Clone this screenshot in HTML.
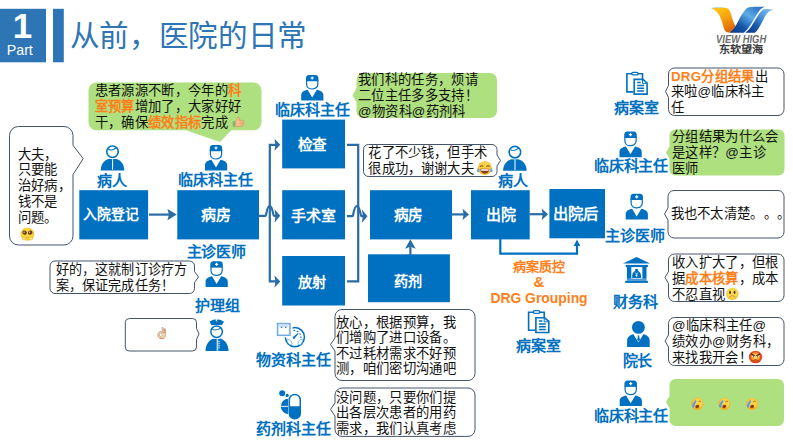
<!DOCTYPE html>
<html lang="zh-CN"><head><meta charset="utf-8"><title>从前，医院的日常</title>
<style>
html,body{margin:0;padding:0;background:#fff;}
body{width:793px;height:446px;position:relative;overflow:hidden;font-family:"Liberation Sans",sans-serif;}
svg.bg{position:absolute;left:0;top:0;}
.t{position:absolute;white-space:nowrap;margin:0;padding:0;}
.h1{color:#fff;font-weight:bold;font-size:35px;line-height:40px;}
.h2{color:#fff;font-size:14.2px;line-height:16px;}
.title{color:#2E75B6;font-size:29.6px;letter-spacing:-0.3px;line-height:36px;}
.bx{color:#fff;font-weight:bold;font-size:14.6px;line-height:20px;}
.role{color:#0070C0;font-weight:bold;font-size:15px;letter-spacing:-0.1px;line-height:18px;}
.org{color:#FF7F1A;font-weight:bold;font-size:13px;line-height:17px;}
.p{text-spacing-trim:space-all;color:#111;font-size:13.33px;letter-spacing:0.33px;line-height:16px;}
.o{color:#FF7F1A;font-weight:bold;}
.em{display:inline-block;vertical-align:-2px;}
.lg1{font-size:10.9px;line-height:12px;font-style:italic;font-weight:bold;color:#6e6e6e;transform:scaleX(0.865);transform-origin:left top;}
.lg2{font-family:"Liberation Serif",serif;font-weight:bold;font-size:11.2px;line-height:12px;color:#3a3a3a;transform:scaleY(0.9);transform-origin:left top;}
</style></head><body>
<svg class="bg" width="793" height="446" viewBox="0 0 793 446">

<defs>
<symbol id="patient" viewBox="0 0 25 27" overflow="visible">
 <path d="M0.7,26.4 C0.7,19.6 5.4,14.3 12.5,14.3 C19.6,14.3 24.3,19.6 24.3,26.4Z" fill="#0070C0"/>
 <circle cx="12.5" cy="7.7" r="7.5" fill="#fff"/>
 <circle cx="12.5" cy="7.7" r="5.75" fill="#fff" stroke="#0070C0" stroke-width="1.6"/>
 <path d="M8.3,5.3 C10.5,6.5 14,5.9 16.3,3.5" fill="none" stroke="#0070C0" stroke-width="1.1"/>
 <path d="M12.6,15.2 V25.7" stroke="#fff" stroke-width="1"/>
</symbol>
<symbol id="doctor" viewBox="0 0 22.6 25.8" overflow="visible">
 <path d="M0.2,25.7 V20.5 C0.2,17.2 3,15.9 6.6,15 L11.2,22.8 L15.8,15 C19.4,15.9 22.4,17.2 22.4,20.5 V25.7Z" fill="#0070C0"/>
 <path d="M5.6,5.5 V9.4 C5.6,15.8 16.8,15.8 16.8,9.4 V5.5Z" fill="#fff" stroke="#0070C0" stroke-width="1.2"/>
 <path d="M5,6.4 V3 C5,1.2 6.3,0.1 7.9,0.1 H14.5 C16.1,0.1 17.4,1.2 17.4,3 V6.4Z" fill="#0070C0"/>
 <path d="M11.2,1.6 V4.8 M9.6,3.2 H12.8" stroke="#fff" stroke-width="1.2"/>
</symbol>
<symbol id="nurse" viewBox="0 0 23.4 31.6" overflow="visible">
 <path d="M0.2,31.5 C0.2,24.2 4.8,18.5 11.7,18.5 C18.6,18.5 23.2,24.2 23.2,31.5Z" fill="#0070C0"/>
 <path d="M12.1,19.4 V31.5" stroke="#BFD9EE" stroke-width="1.6"/>
 <path d="M12.9,22.2 h1.9 M12.9,24.3 h1.9 M12.9,26.4 h1.9 M12.9,28.5 h1.9" stroke="#BFD9EE" stroke-width="1"/>
 <circle cx="11.3" cy="12.3" r="7.4" fill="#fff"/>
 <circle cx="11.3" cy="12.3" r="5.75" fill="#fff" stroke="#0070C0" stroke-width="1.5"/>
 <path d="M6.9,10 C9.4,11.2 13,10.4 15.8,8.3" fill="none" stroke="#0070C0" stroke-width="1"/>
 <path d="M4.1,2.4 L7.8,0.3 L10.9,0.1 L10.3,1.6 L12,2.4 L11.6,0.1 L15,0.3 L18.7,2.4 L16.6,5.6 H6.2Z" fill="#0070C0"/>
</symbol>
<symbol id="clip" viewBox="0 0 23 24.5" overflow="visible">
 <path d="M8,20.9 H1.4 V2.8 H17 V8" fill="none" stroke="#0070C0" stroke-width="1.6"/>
 <rect x="6.2" y="1.3" width="6.4" height="2.6" rx="1.3" fill="#fff" stroke="#0070C0" stroke-width="1.3"/>
 <path d="M8.7,8.4 H17.4 L21.6,12 V23.1 H8.7Z" fill="#fff" stroke="#0070C0" stroke-width="1.6"/>
 <path d="M17,8.8 V12.4 H21.2" fill="none" stroke="#0070C0" stroke-width="1"/>
 <path d="M11.7,11.6 H15.2 M11.7,14.5 H18.6 M11.7,17.3 H18.6 M11.7,20 H18.6" stroke="#0070C0" stroke-width="1.5"/>
</symbol>
<symbol id="equip" viewBox="0 0 29 25.5" overflow="visible">
 <circle cx="18.4" cy="14.6" r="9.55" fill="#fff" stroke="#0070C0" stroke-width="1.5"/>
 <rect x="-0.5" y="-0.5" width="16.6" height="15.4" fill="#fff"/>
 <rect x="1.2" y="1.2" width="11.9" height="11.5" fill="#fff" stroke="#8DBBE3" stroke-width="1.5"/>
 <rect x="0.6" y="0.6" width="13.1" height="12.7" fill="none" stroke="#4C97D4" stroke-width="0.5"/>
 <path d="M2.6,3.4 H11.8" stroke="#A9CDEB" stroke-width="1"/>
 <path d="M3.8,4.2 H6.4 L5.1,5.8Z M8,4.2 H10.6 L9.3,5.8Z" fill="#0070C0"/>
 <path d="M17.4,16.4 L16.6,14.8 L21.6,11 Z" fill="#0070C0" stroke="#0070C0" stroke-width="0.8" stroke-linejoin="round"/>
 <path d="M17.4,7.8 l0.9,0.3 M20.6,8.8 l0.9,0.5 M23.4,11.2 l0.4,0.8 M24.4,14.2 l0.1,0.9" stroke="#0070C0" stroke-width="1.1" stroke-linecap="round"/>
 <ellipse cx="13" cy="19.6" rx="3.3" ry="1.7" transform="rotate(52 13 19.6)" fill="#fff" stroke="#0070C0" stroke-width="0.4"/>
 <ellipse cx="23.9" cy="19.6" rx="3.3" ry="1.7" transform="rotate(-52 23.9 19.6)" fill="#fff" stroke="#0070C0" stroke-width="0.4"/>
</symbol>
<symbol id="pill" viewBox="0 0 22.5 30" overflow="visible">
 <circle cx="3.2" cy="3.2" r="3" fill="#0070C0"/>
 <circle cx="8.2" cy="5.4" r="1.6" fill="#0070C0"/>
 <path d="M9.2,8.8 A7.4,7.65 0 0 0 9.2,24.1Z" fill="#0070C0"/>
 <path d="M1.5,16.4 H9.2" stroke="#fff" stroke-width="0.9"/>
 <rect x="10.35" y="4.45" width="10.9" height="24.4" rx="5.45" fill="#fff" stroke="#0070C0" stroke-width="1.5"/>
 <path d="M10.35,16.3 H21.25 V23.4 C21.25,30.7 10.35,30.7 10.35,23.4Z" fill="#0070C0"/>
</symbol>
<symbol id="bank" viewBox="0 0 27.6 26.2" overflow="visible">
 <path d="M13.8,0.3 L27.3,6.7 H0.2Z" fill="#0070C0"/>
 <rect x="2.9" y="8.1" width="22.2" height="2.2" fill="#0070C0"/>
 <rect x="4.1" y="10.2" width="4.4" height="11.8" fill="#0070C0"/>
 <rect x="19.6" y="10.2" width="4.1" height="11.8" fill="#0070C0"/>
 <rect x="4.1" y="21.8" width="19.6" height="2.2" fill="#4C97D4"/>
 <rect x="2.4" y="24" width="22.7" height="2.1" fill="#0070C0"/>
 <path d="M12.1,12.3 H15.5 L15,14 C17.4,14.8 18.6,17.6 18.2,21.2 H9.4 C9,17.6 10.2,14.8 12.6,14Z" fill="#0070C0"/>
 <path d="M12.6,15.8 L13.8,17.4 L15,15.8 M13.8,17.4 V20.4 M12.6,18.4 H15" stroke="#fff" stroke-width="0.7" fill="none"/>
</symbol>
<symbol id="dean" viewBox="0 0 22.8 26.4" overflow="visible">
 <circle cx="11.4" cy="6.6" r="6.4" fill="#0070C0"/>
 <path d="M0.1,26.3 V20 C0.1,16.2 2.8,14.2 6.4,13.4 L11.4,21.6 L16.4,13.4 C20,14.2 22.7,16.2 22.7,20 V26.3Z" fill="#0070C0"/>
 <path d="M10.4,14.6 H12.6 L12.2,16 L13,19.2 L11.5,20.8 L10.1,19.2 L10.9,16Z" fill="#0070C0"/>
</symbol>
<linearGradient id="lgO" x1="0.3" y1="0" x2="0.7" y2="1">
 <stop offset="0" stop-color="#FFC515"/><stop offset="0.45" stop-color="#F7A00C"/><stop offset="1" stop-color="#DE5F0A"/>
</linearGradient>
<linearGradient id="lgB" x1="0" y1="1" x2="1" y2="0">
 <stop offset="0" stop-color="#0A3585"/><stop offset="0.3" stop-color="#1556A8"/><stop offset="0.6" stop-color="#5FACE6"/><stop offset="0.8" stop-color="#3A84CC"/><stop offset="1" stop-color="#2B6FBA"/>
</linearGradient>
<linearGradient id="lgB2" x1="0" y1="1" x2="1" y2="0">
 <stop offset="0" stop-color="#0A3585"/><stop offset="0.35" stop-color="#1A5CAE"/><stop offset="0.65" stop-color="#4E9ADA"/><stop offset="1" stop-color="#8CC6F0"/>
</linearGradient>
</defs>
<rect x="0" y="8.8" width="46" height="53.5" fill="#2E75B6"/>
<rect x="53" y="8.8" width="10.8" height="53.5" fill="#2E75B6"/>
<rect x="79.3" y="190.2" width="68.8" height="49.2" fill="#0070C0"/>
<rect x="177.3" y="190.2" width="81.7" height="49.2" fill="#0070C0"/>
<rect x="282.2" y="119.6" width="62.8" height="48.8" fill="#0070C0"/>
<rect x="282.2" y="190.2" width="62.8" height="49.2" fill="#0070C0"/>
<rect x="282.2" y="256" width="62.8" height="49.5" fill="#0070C0"/>
<rect x="370" y="190.2" width="82" height="49.2" fill="#0070C0"/>
<rect x="368" y="254.3" width="81.9" height="47.9" fill="#0070C0"/>
<rect x="471" y="190.2" width="58.7" height="49.2" fill="#0070C0"/>
<rect x="549.4" y="189" width="55.6" height="49.3" fill="#0070C0"/>
<path d="M149,214.6 H170" fill="none" stroke="#2A6CA5" stroke-width="2.2"/>
<path d="M176.8,214.6 L167.4,209.0 L169.0,214.6 L167.4,220.2Z" fill="#2A6CA5"/>
<path d="M259,215.8 H265.6 C266.6,215.8 266.6,206 269.7,206 C272.8,206 272.8,215.8 274,215.8 H277" fill="none" stroke="#2A6CA5" stroke-width="2.2"/>
<path d="M280.2,215.8 L274.59999999999997,209.20000000000002 L275.49999999999994,215.8 L274.59999999999997,222.4Z" fill="#2A6CA5"/>
<path d="M276.5,144.8 H269.8 V281.4 H276.5" fill="none" stroke="#2A6CA5" stroke-width="2.2"/>
<path d="M280.3,144.8 L274.5,138.8 L275.4,144.8 L274.5,150.8Z" fill="#2A6CA5"/>
<path d="M280.3,281.4 L274.5,275.4 L275.4,281.4 L274.5,287.4Z" fill="#2A6CA5"/>
<path d="M347,144.8 H358.2 V281.4 H347" fill="none" stroke="#2A6CA5" stroke-width="2.2"/>
<path d="M347,216.2 H352.6 C353.6,216.2 353.6,206 357,206 C360.2,206 360.2,216.2 361.4,216.2 H364" fill="none" stroke="#2A6CA5" stroke-width="2.2"/>
<path d="M367.5,216.2 L361.9,209.6 L362.79999999999995,216.2 L361.9,222.79999999999998Z" fill="#2A6CA5"/>
<path d="M451.5,214.4 H464" fill="none" stroke="#2A6CA5" stroke-width="2.2"/>
<path d="M469,214.4 L462.6,208.70000000000002 L463.6,214.4 L462.6,220.1Z" fill="#2A6CA5"/>
<path d="M529.5,214.2 H543" fill="none" stroke="#2A6CA5" stroke-width="2.2"/>
<path d="M548.1,214.2 L541.7,208.39999999999998 L542.7,214.2 L541.7,220.0Z" fill="#2A6CA5"/>
<path d="M410.4,255 V247" fill="none" stroke="#2A6CA5" stroke-width="2.2"/>
<path d="M410.4,239.3 L405.09999999999997,248.70000000000002 L410.4,246.70000000000002 L415.7,248.70000000000002Z" fill="#2A6CA5"/>
<path d="M500.3,239 V253.7 H577 V245" fill="none" stroke="#0070C0" stroke-width="2.2"/>
<path d="M577,239.4 L573.7,245.9 L577,245.9 L580.3,245.9Z" fill="#0070C0"/>
<path d="M18.5,126.5 H64 A9,9 0 0 1 73,135.5 V145.3 L83.2,158.6 L73,174.6 V236 A9,9 0 0 1 64,245 H18.5 A9,9 0 0 1 9.5,236 V135.5 A9,9 0 0 1 18.5,126.5Z" fill="#FFFFFF" stroke="#44546A" stroke-width="1"/>
<path d="M96.5,82.5 H253.5 A8,8 0 0 1 261.5,90.5 V122.30000000000001 A8,8 0 0 1 253.5,130.3 H231.3 L220,142 L186,130.3 H96.5 A8,8 0 0 1 88.5,122.30000000000001 V90.5 A8,8 0 0 1 96.5,82.5Z" fill="#AEE080"/>
<path d="M363.5,73 H490 A7,7 0 0 1 497,80 V111 A7,7 0 0 1 490,118 H363.5 A7,7 0 0 1 356.5,111 V102 L352.5,95.5 L356.5,88 V80 A7,7 0 0 1 363.5,73Z" fill="#AEE080"/>
<path d="M368.5,144.5 H492 A5,5 0 0 1 497,149.5 V155 L500.5,160.5 L497,166 V171.5 A5,5 0 0 1 492,176.5 H368.5 A5,5 0 0 1 363.5,171.5 V149.5 A5,5 0 0 1 368.5,144.5Z" fill="#FFFFFF" stroke="#44546A" stroke-width="1"/>
<path d="M55,261 H189.5 A5,5 0 0 1 194.5,266 V271.5 L198.5,277 L194.5,282.5 V288.5 A5,5 0 0 1 189.5,293.5 H55 A5,5 0 0 1 50,288.5 V266 A5,5 0 0 1 55,261Z" fill="#FFFFFF" stroke="#44546A" stroke-width="1"/>
<path d="M129.3,318.5 H192.5 A4,4 0 0 1 196.5,322.5 V328.5 L199,334 L196.5,339.5 V347 A4,4 0 0 1 192.5,351 H129.3 A4,4 0 0 1 125.3,347 V322.5 A4,4 0 0 1 129.3,318.5Z" fill="#FFFFFF" stroke="#44546A" stroke-width="1"/>
<path d="M342,309.5 H468 A7,7 0 0 1 475,316.5 V373.5 A7,7 0 0 1 468,380.5 H342 A7,7 0 0 1 335,373.5 V351 L330.5,344.5 L335,338 V316.5 A7,7 0 0 1 342,309.5Z" fill="#FFFFFF" stroke="#44546A" stroke-width="1"/>
<path d="M342,388 H468 A7,7 0 0 1 475,395 V429.4 A7,7 0 0 1 468,436.4 H342 A7,7 0 0 1 335,429.4 V416 L330.5,409.5 L335,403 V395 A7,7 0 0 1 342,388Z" fill="#FFFFFF" stroke="#44546A" stroke-width="1"/>
<path d="M674.5,68 H778 A6,6 0 0 1 784,74 V109.5 A6,6 0 0 1 778,115.5 H674.5 A6,6 0 0 1 668.5,109.5 V97.5 L665.5,91.5 L668.5,85.5 V74 A6,6 0 0 1 674.5,68Z" fill="#FFFFFF" stroke="#44546A" stroke-width="1"/>
<path d="M675.5,129.5 H778.5 A6,6 0 0 1 784.5,135.5 V169.5 A6,6 0 0 1 778.5,175.5 H675.5 A6,6 0 0 1 669.5,169.5 V158.5 L666,152.5 L669.5,146.5 V135.5 A6,6 0 0 1 675.5,129.5Z" fill="#AEE080"/>
<path d="M674,190.5 H778 A6,6 0 0 1 784,196.5 V232 A6,6 0 0 1 778,238 H674 A6,6 0 0 1 668,232 V220 L664.5,214 L668,208 V196.5 A6,6 0 0 1 674,190.5Z" fill="#FFFFFF" stroke="#44546A" stroke-width="1"/>
<path d="M674.5,254 H778 A6,6 0 0 1 784,260 V295.5 A6,6 0 0 1 778,301.5 H674.5 A6,6 0 0 1 668.5,295.5 V283.5 L665,277.5 L668.5,271.5 V260 A6,6 0 0 1 674.5,254Z" fill="#FFFFFF" stroke="#44546A" stroke-width="1"/>
<path d="M674.5,317.5 H778 A6,6 0 0 1 784,323.5 V359.5 A6,6 0 0 1 778,365.5 H674.5 A6,6 0 0 1 668.5,359.5 V347 L665,341 L668.5,335 V323.5 A6,6 0 0 1 674.5,317.5Z" fill="#FFFFFF" stroke="#44546A" stroke-width="1"/>
<path d="M675.5,379 H778 A6,6 0 0 1 784,385 V420 A6,6 0 0 1 778,426 H675.5 A6,6 0 0 1 669.5,420 V408 L666,402 L669.5,396 V385 A6,6 0 0 1 675.5,379Z" fill="#AEE080"/>
<use href="#patient" x="100" y="144" width="25" height="27"/>
<use href="#patient" x="502.4" y="144.4" width="25" height="27"/>
<use href="#doctor" x="204.8" y="144.8" width="22.6" height="25.8"/>
<use href="#doctor" x="301" y="74.8" width="22.6" height="25.8"/>
<use href="#doctor" x="205.4" y="261.2" width="22.6" height="25.8"/>
<use href="#doctor" x="619.3" y="131.5" width="22.6" height="25.8"/>
<use href="#doctor" x="625.5" y="193.7" width="22.6" height="25.8"/>
<use href="#doctor" x="619.5" y="380.4" width="22.6" height="25.8"/>
<use href="#nurse" x="205.3" y="319.4" width="23.4" height="31.6"/>
<use href="#equip" x="276.5" y="322.5" width="29" height="25.5"/>
<use href="#pill" x="279" y="390" width="22.5" height="30"/>
<use href="#clip" x="625.5" y="71" width="23" height="24.5"/>
<use href="#clip" x="527.2" y="309.4" width="23" height="24.5"/>
<use href="#bank" x="622.8" y="256.8" width="27.6" height="26.2"/>
<use href="#dean" x="627" y="320.8" width="22.8" height="26.4"/>
<g>
 <path d="M711.3,8.4 C714,7.4 722,7.2 726.4,7.9 C730,8.6 731,14 732.6,19.6 C733.6,23 735,25.5 735.8,26.5 L730.1,32.6 C728,32.7 726.5,32.2 725.7,31.5 C723.5,29 723,24 720.7,18.3 C719,13.5 716,10 711.3,8.4Z" fill="url(#lgO)"/>
 <path d="M711.3,8.4 C714,7.4 720,7.3 723,7.5" fill="none" stroke="#A8D4F0" stroke-width="0.7"/>
 <path d="M729.5,32.8 C733,30 735,27 736.4,24.6 C739,20 740.5,16 742.7,13.3 C744.5,10.5 746,8.6 747.7,7.7 C750,6.6 760,6.6 765.3,6.8 C763,7.4 761.5,8.4 760.3,9.5 C758,12 756.8,14.5 755.3,17.1 C753,21 751,25 749,27.1 C747.3,29.5 745.6,31.5 743.9,32.8Z" fill="url(#lgB)"/>
 <path d="M745.5,32.8 C747.5,31 749.5,29 750.9,27.1 C753.5,23.5 755,20 757.1,17.1 C759,14 760.5,11.5 762.2,10.2 C764,8.8 769,8.8 773.5,9.8 C771,10.4 769,11.4 767.8,12.7 C765.5,15 764.3,18 762.8,20.8 C761,24 759.5,27 757.8,29.6 C756.8,31 755.8,32.2 754.6,32.8Z" fill="url(#lgB2)"/>
</g>
<svg x="20.20" y="227.20" width="14.4" height="14" viewBox="0 0 14 14" preserveAspectRatio="none"><circle cx="7" cy="7" r="6.6" fill="#F5C928"/><circle cx="7" cy="6.4" r="5.4" fill="#F9DA3C"/><ellipse cx="4.3" cy="5.4" rx="2.3" ry="2" fill="#6E3B1E" transform="rotate(25 4.3 5.4)"/><ellipse cx="9.7" cy="5.4" rx="2.3" ry="2" fill="#6E3B1E" transform="rotate(-25 9.7 5.4)"/><circle cx="3.8" cy="5" r="0.6" fill="#fff"/><circle cx="9.2" cy="5" r="0.6" fill="#fff"/><rect x="2" y="10" width="3.2" height="2.6" rx="1" fill="#FBE58A" stroke="#E0A82A" stroke-width="0.4"/><rect x="8.8" y="10" width="3.2" height="2.6" rx="1" fill="#FBE58A" stroke="#E0A82A" stroke-width="0.4"/><path d="M5.6,10.6 C6.4,10 7.6,10 8.4,10.6" stroke="#C07A1C" stroke-width="0.6" fill="none"/></svg>
<svg x="232.10" y="116.00" width="12.8" height="11.6" viewBox="0 0 14 14" preserveAspectRatio="none"><path d="M0.6,6.4 h3 v6.2 h-3z" fill="#7FB56A"/><path d="M3.6,6.6 C5.2,5.6 5.8,3.6 6,1.2 C7.8,0.8 8.4,3.2 7.8,5.2 H11.6 C13,5.2 13,7 12.2,7.2 C13,7.6 12.8,8.8 12,9 C12.6,9.6 12.2,10.6 11.6,10.8 C12,11.6 11.4,12.6 10.4,12.6 H3.6Z" fill="#F6BE8C" stroke="#D48A4E" stroke-width="0.6"/><path d="M8,7.2 H12 M8,9 H11.8 M8,10.8 H11.4" stroke="#D9925A" stroke-width="0.45"/></svg>
<svg x="476.80" y="160.45" width="16" height="15.5" viewBox="0 0 14 14" preserveAspectRatio="none"><circle cx="7" cy="7" r="6.2" fill="#F6B830"/><circle cx="7" cy="6.2" r="5.2" fill="#FAD046"/><path d="M2.8,5.6 C3.6,4.4 4.8,4.6 5.6,5.6 M8.4,5.6 C9.2,4.6 10.4,4.4 11.2,5.6" stroke="#8A5018" stroke-width="0.9" fill="none"/><path d="M3,7.6 H11 C10.8,10.6 9,12 7,12 C5,12 3.2,10.6 3,7.6Z" fill="#8A3A14"/><path d="M3.6,8 H10.4 V9 C9,9.4 5,9.4 3.6,9Z" fill="#fff"/><path d="M1.4,7 C-0.6,8.4 -0.2,10.8 1.4,10.6 C2.8,10.4 2.6,8.4 1.4,7Z M12.6,7 C14.6,8.4 14.2,10.8 12.6,10.6 C11.2,10.4 11.4,8.4 12.6,7Z" fill="#5FA8F0"/></svg>
<svg x="156.50" y="327.00" width="10.4" height="12" viewBox="0 0 14 14" preserveAspectRatio="none"><path d="M8.6,6.2 L7.4,1.6 C7.2,0.2 9,0 9.4,1.2 L11,5.4 M10.2,6 L10.6,2.6 C10.8,1.4 12.4,1.6 12.2,3 L11.8,7" fill="#F3D6B4" stroke="#B08A66" stroke-width="0.8" stroke-linejoin="round"/><path d="M4.4,13.2 C1.4,12 0.8,8.4 2.8,6.4 C4.6,4.8 7.4,5 8.6,6.4 L11.8,6.6 C13,9 12,12.2 9.8,13.2Z" fill="#F3D6B4" stroke="#B08A66" stroke-width="0.8"/><circle cx="5.8" cy="9" r="2" fill="#fff" stroke="#B08A66" stroke-width="0.7"/><path d="M4.4,13.2 H9.8 V14 H4.4Z" fill="#E8873A"/></svg>
<svg x="725.70" y="287.30" width="13.2" height="13" viewBox="0 0 14 14" preserveAspectRatio="none"><circle cx="7" cy="7" r="6.6" fill="#F0C030"/><circle cx="7" cy="6.4" r="5.6" fill="#F9DC50"/><ellipse cx="4.6" cy="5.6" rx="1" ry="1.5" fill="#5A2A2A"/><ellipse cx="9.4" cy="5.6" rx="1" ry="1.5" fill="#5A2A2A"/><path d="M4,10.8 C5.2,8.4 8.8,8.4 10,10.8" stroke="#D98A20" stroke-width="1.1" fill="none"/><path d="M3.2,3.6 L5.6,3 M10.8,3.6 L8.4,3" stroke="#C89A30" stroke-width="0.5"/></svg>
<svg x="748.40" y="350.30" width="14.2" height="13.4" viewBox="0 0 14 14" preserveAspectRatio="none"><circle cx="7" cy="7" r="6.6" fill="#E24A1C"/><circle cx="7" cy="6.6" r="4.6" fill="#F59A30"/><circle cx="7" cy="6.4" r="2.6" fill="#F9D060"/><path d="M2.6,3.6 L6.2,6 M11.4,3.6 L7.8,6" stroke="#4A1A0A" stroke-width="1.1"/><ellipse cx="4.8" cy="6.6" rx="1.2" ry="1" fill="#fff"/><ellipse cx="9.2" cy="6.6" rx="1.2" ry="1" fill="#fff"/><circle cx="5" cy="6.7" r="0.6" fill="#3A1A0A"/><circle cx="9" cy="6.7" r="0.6" fill="#3A1A0A"/><path d="M4.8,10.8 C6,9.8 8,9.8 9.2,10.8" stroke="#7A1A0A" stroke-width="0.8" fill="none"/></svg>
<svg x="690.80" y="397.30" width="13" height="13.4" viewBox="0 0 14 14" preserveAspectRatio="none"><circle cx="7" cy="7" r="6.5" fill="#F3B62C"/><circle cx="7.4" cy="6.2" r="5.2" fill="#FAD24A"/><path d="M8.2,4.6 C9,3.8 10.2,3.8 11,4.8" stroke="#8A5018" stroke-width="0.8" fill="none"/><path d="M5.2,2.8 C3.6,4 2,6.4 1.2,9.6 C2,11 3.2,11.4 3.8,10 C4.2,8 5,5.6 6.2,4Z" fill="#5C9CE6"/><ellipse cx="7" cy="9.6" rx="2.2" ry="1.7" fill="#8A3A14" transform="rotate(-15 7 9.6)"/><path d="M5.4,11.4 C6.6,12.4 8.6,12.2 9.6,11" stroke="#E09A20" stroke-width="0.7" fill="none"/></svg>
<svg x="717.80" y="397.30" width="13" height="13.4" viewBox="0 0 14 14" preserveAspectRatio="none"><circle cx="7" cy="7" r="6.5" fill="#F3B62C"/><circle cx="7.4" cy="6.2" r="5.2" fill="#FAD24A"/><path d="M8.2,4.6 C9,3.8 10.2,3.8 11,4.8" stroke="#8A5018" stroke-width="0.8" fill="none"/><path d="M5.2,2.8 C3.6,4 2,6.4 1.2,9.6 C2,11 3.2,11.4 3.8,10 C4.2,8 5,5.6 6.2,4Z" fill="#5C9CE6"/><ellipse cx="7" cy="9.6" rx="2.2" ry="1.7" fill="#8A3A14" transform="rotate(-15 7 9.6)"/><path d="M5.4,11.4 C6.6,12.4 8.6,12.2 9.6,11" stroke="#E09A20" stroke-width="0.7" fill="none"/></svg>
<svg x="745.60" y="397.30" width="13" height="13.4" viewBox="0 0 14 14" preserveAspectRatio="none"><circle cx="7" cy="7" r="6.5" fill="#F3B62C"/><circle cx="7.4" cy="6.2" r="5.2" fill="#FAD24A"/><path d="M8.2,4.6 C9,3.8 10.2,3.8 11,4.8" stroke="#8A5018" stroke-width="0.8" fill="none"/><path d="M5.2,2.8 C3.6,4 2,6.4 1.2,9.6 C2,11 3.2,11.4 3.8,10 C4.2,8 5,5.6 6.2,4Z" fill="#5C9CE6"/><ellipse cx="7" cy="9.6" rx="2.2" ry="1.7" fill="#8A3A14" transform="rotate(-15 7 9.6)"/><path d="M5.4,11.4 C6.6,12.4 8.6,12.2 9.6,11" stroke="#E09A20" stroke-width="0.7" fill="none"/></svg>
</svg>
<div class="t h1" style="left:-0.5px;top:5.5px;width:46px;text-align:center">1</div>
<div class="t h2" style="left:-3.2px;top:42.2px;width:46px;text-align:center">Part</div>
<div class="t title" style="left:69.5px;top:18.2px;">从前，医院的日常</div>
<div class="t bx" style="left:76.7px;top:205.29999999999998px;width:68.8px;text-align:center;font-size:13.8px;letter-spacing:0px">入院登记</div>
<div class="t bx" style="left:175.20000000000002px;top:204.89999999999998px;width:81.7px;text-align:center;font-size:15px;letter-spacing:0px">病房</div>
<div class="t bx" style="left:280.9px;top:134.6px;width:62.8px;text-align:center;font-size:14.6px;letter-spacing:-0.4px">检查</div>
<div class="t bx" style="left:281.9px;top:205.6px;width:62.8px;text-align:center;font-size:15px;letter-spacing:0px">手术室</div>
<div class="t bx" style="left:280.9px;top:271.55px;width:62.8px;text-align:center;font-size:14.2px;letter-spacing:0px">放射</div>
<div class="t bx" style="left:367.4px;top:204.6px;width:82px;text-align:center;font-size:14.6px;letter-spacing:-0.5px">病房</div>
<div class="t bx" style="left:367.5px;top:271.15px;width:81.9px;text-align:center;font-size:14.1px;letter-spacing:0px">药剂</div>
<div class="t bx" style="left:471.8px;top:205.39999999999998px;width:58.7px;text-align:center;font-size:15px;letter-spacing:0px">出院</div>
<div class="t bx" style="left:548.1999999999999px;top:204.45000000000002px;width:55.6px;text-align:center;font-size:15.3px;letter-spacing:0px">出院后</div>
<div class="t role" style="left:52px;top:172px;width:120px;text-align:center">病人</div>
<div class="t role" style="left:155.7px;top:170.5px;width:120px;text-align:center">临床科主任</div>
<div class="t role" style="left:252.3px;top:101px;width:120px;text-align:center">临床科主任</div>
<div class="t role" style="left:453px;top:171.5px;width:120px;text-align:center">病人</div>
<div class="t role" style="left:156.4px;top:243px;width:120px;text-align:center">主诊医师</div>
<div class="t role" style="left:157.6px;top:297px;width:120px;text-align:center">护理组</div>
<div class="t role" style="left:233.3px;top:350.5px;width:120px;text-align:center">物资科主任</div>
<div class="t role" style="left:233.3px;top:420px;width:120px;text-align:center">药剂科主任</div>
<div class="t role" style="left:478.5px;top:337px;width:120px;text-align:center">病案室</div>
<div class="t role" style="left:576.7px;top:98.5px;width:120px;text-align:center">病案室</div>
<div class="t role" style="left:571px;top:156.5px;width:120px;text-align:center">临床科主任</div>
<div class="t role" style="left:575.2px;top:227px;width:120px;text-align:center">主诊医师</div>
<div class="t role" style="left:575.8px;top:292.5px;width:120px;text-align:center">财务科</div>
<div class="t role" style="left:577.5px;top:352px;width:120px;text-align:center">院长</div>
<div class="t role" style="left:571px;top:406.5px;width:120px;text-align:center">临床科主任</div>
<div class="t org" style="left:480px;top:257.5px;width:118px;text-align:center">病案质控</div>
<div class="t org" style="left:480px;top:272.5px;width:118px;text-align:center;font-size:15px">&amp;</div>
<div class="t org" style="left:480px;top:289.9px;width:118px;text-align:center;font-size:13.9px">DRG Grouping</div>
<div class="t p" style="left:17.6px;top:146.6px;line-height:15.8px">大夫，<br>只要能<br>治好病，<br>钱不是<br>问题。</div>
<div class="t p" style="left:94.6px;top:83px;">患者源源不断，今年的<b class="o">科</b><br><b class="o">室预算</b>增加了，大家好好<br>干，确保<b class="o">绩效指标</b>完成 </div>
<div class="t p" style="left:358px;top:72.3px;line-height:15.7px">我们科的任务，烦请<br>二位主任多多支持！<br>@物资科@药剂科</div>
<div class="t p" style="left:368.4px;top:145.4px;line-height:15.5px;letter-spacing:0.18px">花了不少钱，但手术<br>很成功，谢谢大夫</div>
<div class="t p" style="left:56px;top:261.8px;font-size:13.1px;letter-spacing:0.1px;line-height:16.2px">好的，这就制订诊疗方<br>案，保证完成任务！</div>
<div class="t p" style="left:336px;top:314.5px;line-height:15.5px">放心，根据预算，我<br>们增购了进口设备。<br>不过耗材需求不好预<br>测，咱们密切沟通吧</div>
<div class="t p" style="left:336px;top:389.6px;line-height:15.6px">没问题，只要你们提<br>出各层次患者的用药<br>需求，我们认真考虑</div>
<div class="t p" style="left:670.9px;top:68.6px;line-height:15.75px"><b class="o">DRG分组结果</b>出<br>来啦@临床科主<br>任</div>
<div class="t p" style="left:672px;top:129.2px;line-height:15.75px">分组结果为什么会<br>是这样？@主诊<br>医师</div>
<div class="t p" style="left:670.5px;top:206.3px;line-height:15.75px">我也不太清楚。。。</div>
<div class="t p" style="left:672px;top:255.4px;line-height:15.75px">收入扩大了，但根<br>据<b class="o">成本核算</b>，成本<br>不忍直视</div>
<div class="t p" style="left:672px;top:318px;line-height:15.75px">@临床科主任@<br>绩效办@财务科，<br>来找我开会！</div>
<div class="t lg1" style="left:715.8px;top:33.3px;">VIEW HIGH</div>
<div class="t lg2" style="left:718.6px;top:44.3px;">东软望海</div>
</body></html>
